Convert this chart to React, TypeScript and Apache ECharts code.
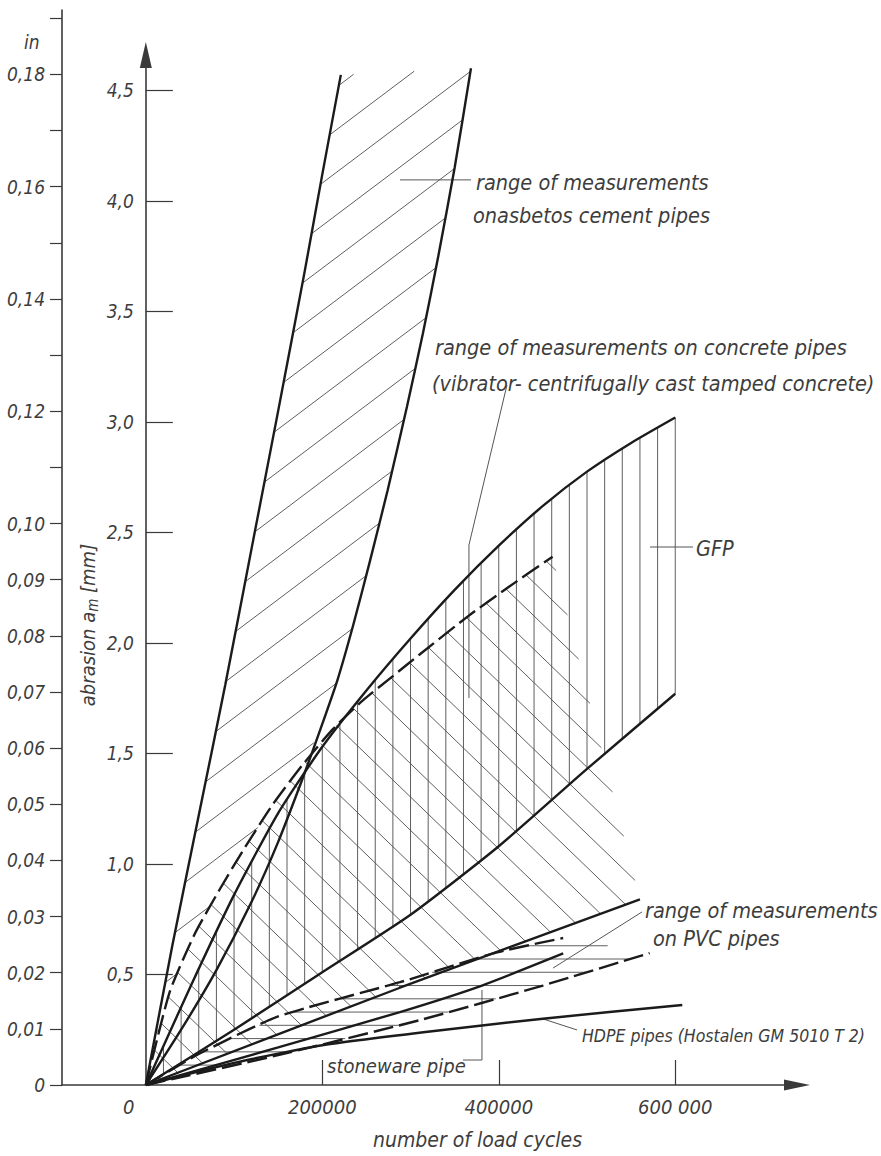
import React, { useEffect, useRef } from "react";
import * as echarts from "echarts";

// ---------------- data: number of load cycles -> abrasion a_m in mm ----------------
const asbestosLeft = [[0, 0], [30000, 0.63], [60000, 1.22], [90000, 1.81], [120000, 2.43], [150000, 3.05], [180000, 3.68], [200000, 4.12], [221000, 4.57]];
const asbestosRight = [[0, 0], [40000, 0.25], [80000, 0.52], [120000, 0.83], [150000, 1.1], [178000, 1.39], [197000, 1.6], [217000, 1.83], [235000, 2.08], [254000, 2.37], [274000, 2.69], [296000, 3.07], [314000, 3.4], [331000, 3.74], [350000, 4.15], [368500, 4.6]];
const gfpUpper = [[0, 0], [50000, 0.44], [100000, 0.86], [150000, 1.23], [200000, 1.53], [250000, 1.785], [300000, 2.02], [350000, 2.24], [400000, 2.44], [450000, 2.62], [500000, 2.775], [550000, 2.905], [600000, 3.02]];
const gfpLower = [[0, 0], [100000, 0.25], [200000, 0.51], [300000, 0.77], [400000, 1.08], [500000, 1.43], [600000, 1.77]];
const concreteUpper = [[0, 0], [27000, 0.42], [55000, 0.68], [83000, 0.88], [110000, 1.06], [144000, 1.27], [178000, 1.45], [212000, 1.61], [246000, 1.74], [280000, 1.85], [311000, 1.95], [365000, 2.12], [410000, 2.25], [461000, 2.39]];
const concreteLower = [[0, 0], [288000, 0.44], [560000, 0.84]];
const pvcUpper = [[0, 0], [60000, 0.14], [150000, 0.31], [288000, 0.465], [398000, 0.6], [473000, 0.665]];
const stoneware = [[0, 0], [150000, 0.17], [288000, 0.33], [381000, 0.45], [473000, 0.595]];
const pvcLower = [[0, 0], [150000, 0.135], [311000, 0.294], [450000, 0.45], [571000, 0.597]];
const hdpe = [[0, 0], [100000, 0.1], [200000, 0.18], [317000, 0.24], [450000, 0.3], [608000, 0.362]];

// leader lines of the annotations (data coordinates)
const leaderAsbestos = [[288000, 4.095], [368500, 4.095]];
const leaderConcrete = [[409300, 3.167], [366200, 2.443], [366200, 1.751]];
const leaderGfp = [[571400, 2.434], [620200, 2.434]];
const leaderPvc = [[461500, 0.529], [562400, 0.783]];
const leaderHdpe = [[450100, 0.299], [488700, 0.249]];
const leaderStoneware = [[380950, 0.43], [380950, 0.113], [359400, 0.113]];

// ---------------- ticks and labels ----------------
const xTickValues = [200000, 400000, 600000];
const xLabelValues = [0, 200000, 400000, 600000];
const mmTickValues = [0.5, 1.0, 1.5, 2.0, 2.5, 3.0, 3.5, 4.0, 4.5];
const inchTickValues = [0, 0.01, 0.02, 0.03, 0.04, 0.05, 0.06, 0.07, 0.08, 0.09, 0.1, 0.11, 0.12, 0.13, 0.14, 0.15, 0.16, 0.17, 0.18, 0.19];
const inchLabelValues = [0, 0.01, 0.02, 0.03, 0.04, 0.05, 0.06, 0.07, 0.08, 0.09, 0.1, 0.12, 0.14, 0.16, 0.18];

// ---------------- styles ----------------
const FF = "'DejaVu Sans Condensed', 'Liberation Sans Narrow', 'DejaVu Sans', sans-serif";
const TEXT = "#3d3d3d";
const AXIS = "#3a3a3a";
const INK = "#1b1b1b";
const HATCH = "#4d4d4d";
const X_MIN = -95000;
const X_MAX = 738000;
const MM_MAX = 4.66;
const IN_MAX = 0.19148;
const GRID_LEFT = 62;
const GRID_W = 735;
const ZERO_X = GRID_LEFT + (GRID_W * (0 - X_MIN)) / (X_MAX - X_MIN);

function interpY(arr: number[][], x: number) {
  for (let i = 0; i < arr.length - 1; i++) {
    const [x1, y1] = arr[i];
    const [x2, y2] = arr[i + 1];
    if (x >= x1 && x <= x2) return y1 + ((y2 - y1) * (x - x1)) / (x2 - x1);
  }
  return NaN;
}
function interpX(arr: number[][], y: number) {
  for (let i = 0; i < arr.length - 1; i++) {
    const [x1, y1] = arr[i];
    const [x2, y2] = arr[i + 1];
    if (y >= y1 && y <= y2) return x1 + ((x2 - x1) * (y - y1)) / (y2 - y1);
  }
  return NaN;
}

// hatch lines for a polygon given in pixels
function hatchSegments(poly: number[][], angleDeg: number, spacing: number, rising: boolean) {
  const a = (angleDeg * Math.PI) / 180;
  const d = [Math.cos(a), rising ? -Math.sin(a) : Math.sin(a)];
  const n = [-d[1], d[0]];
  const s = poly.map((p) => p[0] * n[0] + p[1] * n[1]);
  const smin = Math.min(...s);
  const smax = Math.max(...s);
  const segs: number[][] = [];
  for (let v = Math.ceil(smin / spacing) * spacing + 0.137; v < smax; v += spacing) {
    const us: number[] = [];
    for (let i = 0; i < poly.length; i++) {
      const j = (i + 1) % poly.length;
      const s1 = s[i];
      const s2 = s[j];
      if ((s1 <= v && s2 > v) || (s2 <= v && s1 > v)) {
        const t = (v - s1) / (s2 - s1);
        const px = poly[i][0] + t * (poly[j][0] - poly[i][0]);
        const py = poly[i][1] + t * (poly[j][1] - poly[i][1]);
        us.push(px * d[0] + py * d[1]);
      }
    }
    us.sort((p, q) => p - q);
    for (let k = 0; k + 1 < us.length; k += 2) {
      segs.push([
        v * n[0] + us[k] * d[0], v * n[1] + us[k] * d[1],
        v * n[0] + us[k + 1] * d[0], v * n[1] + us[k + 1] * d[1],
      ]);
    }
  }
  return segs;
}

const lineChild = (x1: number, y1: number, x2: number, y2: number) => ({
  type: "line",
  shape: { x1, y1, x2, y2 },
  style: { stroke: HATCH, lineWidth: 0.9 },
});

function diagonalHatch(polyData: number[][], angle: number, spacing: number, rising: boolean) {
  return {
    type: "custom",
    xAxisIndex: 0,
    yAxisIndex: 0,
    silent: true,
    z: 1,
    data: [[0, 0]],
    renderItem: (_p: any, api: any) => {
      const poly = polyData.map((p) => api.coord(p));
      const segs = hatchSegments(poly, angle, spacing, rising);
      return { type: "group", children: segs.map((q) => lineChild(q[0], q[1], q[2], q[3])) };
    },
  };
}

const CROSS = 1.52;
const asbestosPoly = [
  ...asbestosLeft,
  ...asbestosRight.filter((p) => p[1] >= CROSS).reverse(),
  ...concreteUpper.filter((p) => p[1] < CROSS).reverse(),
];
const concretePoly = [...concreteUpper, ...concreteLower.slice().reverse()];

const gfpHatch = {
  type: "custom",
  xAxisIndex: 0,
  yAxisIndex: 0,
  silent: true,
  z: 1,
  data: [[0, 0]],
  renderItem: (_p: any, api: any) => {
    const children: any[] = [];
    for (let x = 20000; x <= 600000; x += 20000) {
      const a = api.coord([x, interpY(gfpLower, x)]);
      const b = api.coord([x, interpY(gfpUpper, x)]);
      children.push(lineChild(a[0], a[1], b[0], b[1]));
    }
    return { type: "group", children };
  },
};

const pvcHatch = {
  type: "custom",
  xAxisIndex: 0,
  yAxisIndex: 0,
  silent: true,
  z: 1,
  data: [[0, 0]],
  renderItem: (_p: any, api: any) => {
    const children: any[] = [];
    const e1 = pvcUpper[pvcUpper.length - 1];
    const e2 = pvcLower[pvcLower.length - 1];
    for (let y = 0.03; y < e1[1]; y += 0.06) {
      const xl = interpX(pvcUpper, y);
      let xr;
      if (y <= e2[1]) xr = interpX(pvcLower, y);
      else xr = e1[0] + ((e1[1] - y) / (e1[1] - e2[1])) * (e2[0] - e1[0]);
      const a = api.coord([xl, y]);
      const b = api.coord([xr, y]);
      children.push(lineChild(a[0], a[1], b[0], b[1]));
    }
    return { type: "group", children };
  },
};

const curve = (name: string, data: number[][], dashed: boolean) => ({
  name,
  type: "line",
  xAxisIndex: 0,
  yAxisIndex: 0,
  data,
  showSymbol: false,
  silent: true,
  smooth: 0.2,
  z: 3,
  lineStyle: { color: INK, width: 2.4, type: dashed ? [20, 6] : "solid", cap: "butt" },
});

const leader = (name: string, data: number[][]) => ({
  name,
  type: "line",
  xAxisIndex: 0,
  yAxisIndex: 0,
  data,
  showSymbol: false,
  silent: true,
  z: 2,
  lineStyle: { color: "#555", width: 1 },
});

const label = (text: string, x: number, y: number, size = 21.5) => ({
  type: "text",
  x,
  y,
  z: 10,
  style: {
    text,
    fill: TEXT,
    fontSize: size,
    fontFamily: FF,
    fontStyle: "italic",
    verticalAlign: "middle",
    align: "left",
  },
});

const axisFont = { color: TEXT, fontSize: 19, fontFamily: FF, fontStyle: "italic" };

export default function App() {
  const ref = useRef<HTMLDivElement>(null);
  useEffect(() => {
    document.body.style.margin = "0";
    const chart = echarts.init(ref.current!, null, { renderer: "svg" });
    chart.setOption({
      animation: false,
      backgroundColor: "#ffffff",
      grid: [
        { left: GRID_LEFT, top: 55, width: GRID_W, bottom: 71 },
        { left: GRID_LEFT, top: 10, width: 1, bottom: 71 },
        { left: ZERO_X, top: 55, width: 1, bottom: 71 },
      ],
      xAxis: [
        {
          type: "value",
          gridIndex: 0,
          min: X_MIN,
          max: X_MAX,
          axisLine: {
            show: true,
            onZero: true,
            symbol: ["none", "triangle"],
            symbolSize: [11, 26],
            lineStyle: { color: AXIS, width: 1.6 },
          },
          axisTick: { show: true, inside: true, length: 25, customValues: xTickValues, lineStyle: { color: AXIS, width: 1.2 } },
          axisLabel: {
            customValues: xLabelValues,
            margin: 12,
            formatter: (v: number) => (v === 0 ? "{z|0}" : v === 600000 ? "600 000" : String(v)),
            ...axisFont,
            fontSize: 20,
            rich: { z: { padding: [0, 34, 0, 0], fontSize: 20, fontFamily: FF, fontStyle: "italic", color: TEXT } },
          },
          splitLine: { show: false },
        },
        { type: "value", gridIndex: 1, min: 0, max: 1, show: false },
        { type: "value", gridIndex: 2, min: 0, max: 1, show: false },
      ],
      yAxis: [
        { type: "value", gridIndex: 0, min: 0, max: MM_MAX, show: false, splitLine: { show: false } },
        {
          type: "value",
          gridIndex: 1,
          min: 0,
          max: IN_MAX,
          axisLine: { show: true, onZero: false, lineStyle: { color: AXIS, width: 1.6 } },
          axisTick: { show: true, inside: false, length: 12, customValues: inchTickValues, lineStyle: { color: AXIS, width: 1.2 } },
          axisLabel: {
            customValues: inchLabelValues,
            margin: 17,
            formatter: (v: number) => (v === 0 ? "0" : v.toFixed(2).replace(".", ",")),
            ...axisFont,
          },
          splitLine: { show: false },
        },
        {
          type: "value",
          gridIndex: 2,
          min: 0,
          max: MM_MAX,
          axisLine: {
            show: true,
            onZero: false,
            symbol: ["none", "triangle"],
            symbolSize: [12, 26],
            lineStyle: { color: AXIS, width: 1.6 },
          },
          axisTick: { show: true, inside: true, length: 27, customValues: mmTickValues, lineStyle: { color: AXIS, width: 1.2 } },
          axisLabel: {
            customValues: mmTickValues,
            margin: 12,
            formatter: (v: number) => v.toFixed(1).replace(".", ","),
            ...axisFont,
          },
          splitLine: { show: false },
        },
      ],
      graphic: [
        label("in", 24, 42, 19),
        label("range of measurements", 476, 182),
        label("onasbetos cement pipes", 473, 215),
        label("range of measurements on concrete pipes", 435, 347),
        label("(vibrator- centrifugally cast tamped concrete)", 432, 383),
        label("GFP", 696, 548),
        label("range of measurements", 645, 910),
        label("on PVC pipes", 653, 938),
        label("HDPE pipes (Hostalen GM 5010 T 2)", 582, 1036, 17.5),
        label("stoneware pipe", 327, 1066, 20),
        label("number of load cycles", 373, 1140, 21),
        {
          type: "text",
          x: 88,
          y: 625,
          rotation: Math.PI / 2,
          z: 10,
          style: {
            text: "abrasion a{sub|m} [mm]",
            fill: TEXT,
            fontSize: 20,
            fontFamily: FF,
            fontStyle: "italic",
            align: "center",
            verticalAlign: "middle",
            rich: { sub: { fontSize: 15, fontFamily: FF, fontStyle: "italic", fill: TEXT, padding: [10, 0, 0, 0] } },
          },
        },
      ],
      series: [
        diagonalHatch(asbestosPoly, 37, 34, true),
        diagonalHatch(concretePoly, 44, 24, false),
        gfpHatch,
        pvcHatch,
        curve("asbestos cement (lower bound)", asbestosLeft, false),
        curve("asbestos cement (upper bound)", asbestosRight, false),
        curve("GFP upper", gfpUpper, false),
        curve("GFP lower", gfpLower, false),
        curve("concrete upper", concreteUpper, true),
        curve("concrete lower", concreteLower, false),
        curve("PVC upper", pvcUpper, true),
        curve("stoneware pipe", stoneware, false),
        curve("PVC lower", pvcLower, true),
        curve("HDPE pipes", hdpe, false),
        leader("leader asbestos", leaderAsbestos),
        leader("leader concrete", leaderConcrete),
        leader("leader GFP", leaderGfp),
        leader("leader PVC", leaderPvc),
        leader("leader HDPE", leaderHdpe),
        leader("leader stoneware", leaderStoneware),
      ],
    });
    return () => chart.dispose();
  }, []);
  return (
    <div
      ref={ref}
      style={{ position: "absolute", left: 0, top: 0, width: 881, height: 1156, background: "#fff" }}
    />
  );
}
